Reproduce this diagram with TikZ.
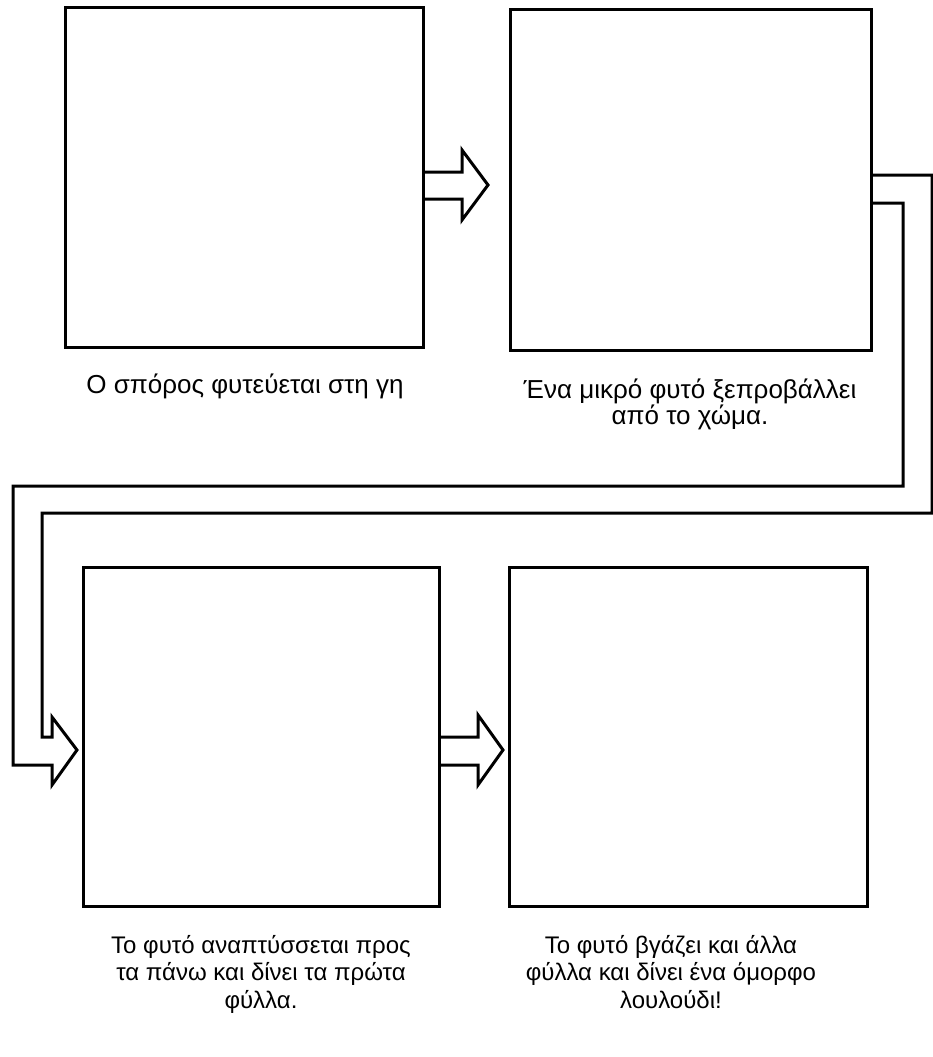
\documentclass[tikz,border=0pt]{standalone}
\usepackage{fontspec}
\setmainfont{Liberation Sans}
\tikzset{
  panel/.style={draw, line width=3pt, inner sep=0pt},
  blockarrow/.style={draw, line width=3pt, line join=miter},
  caption/.style={align=center, inner sep=0pt, anchor=north}
}
\begin{document}
\begin{tikzpicture}[x=1pt,y=-1pt]
\useasboundingbox (0,0) rectangle (933,1057);
% Panels
\node[panel, minimum width=358pt, minimum height=339pt] (P1) at (244,177.5) {};
\node[panel, minimum width=361pt, minimum height=340pt] (P2) at (690.5,180) {};
\node[panel, minimum width=356pt, minimum height=339pt] (P3) at (261,736.5) {};
\node[panel, minimum width=358pt, minimum height=339pt] (P4) at (688,736.5) {};

% Block arrow 1 -> 2
\draw[blockarrow] (P1.east |- 0,172) -- (462,172) -- (462,150) -- (488,185)
  -- (462,220) -- (462,199) -- (P1.east |- 0,199);

% Block arrow 3 -> 4
\draw[blockarrow] (P3.east |- 0,737) -- (478,737) -- (478,715) -- (503,750)
  -- (478,785) -- (478,765) -- (P3.east |- 0,765);

% Long arrow 2 -> 3
\draw[blockarrow] (P2.east |- 0,175) -- (932,175) -- (932,513) -- (42,513)
  -- (42,737) -- (52,737) -- (52,717) -- (77,750) -- (52,785) -- (52,765)
  -- (13,765) -- (13,486) -- (903,486) -- (903,203) -- (P2.east |- 0,203);

% Captions
\node[caption, font=\fontsize{26}{21}\selectfont] (C1) at (245,374)
  {Ο σπόρος φυτεύεται στη γη};
\node[caption, font=\fontsize{26}{21}\selectfont] (C2) at (690,379)
  {Ένα μικρό φυτό ξεπροβάλλει\\από το χώμα.};
\node[caption, font=\fontsize{24}{27.5}\selectfont] (C3) at (261,935)
  {Το φυτό αναπτύσσεται προς\\τα πάνω και δίνει τα πρώτα\\φύλλα.};
\node[caption, font=\fontsize{24}{27.5}\selectfont] (C4) at (671,935)
  {Το φυτό βγάζει και άλλα\\φύλλα και δίνει ένα όμορφο\\λουλούδι!};
\end{tikzpicture}
\end{document}
